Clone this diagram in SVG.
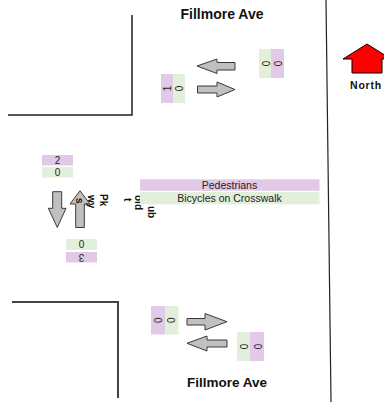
<svg xmlns="http://www.w3.org/2000/svg" width="384" height="406" viewBox="0 0 384 406">
<style>
.road{stroke:#222;stroke-width:1.5;fill:none}
.arr{fill:#c0c0c0;stroke:#3a3a3a;stroke-width:1}
.pur{fill:#e2c9e8}
.grn{fill:#e2efda}
.num{font-family:"Liberation Sans",Arial,sans-serif;font-size:10px;fill:#222;text-anchor:middle}
.lbl{font-family:"Liberation Sans",Arial,sans-serif;font-size:10.5px;fill:#222;text-anchor:middle}
.street{font-family:"Liberation Sans",Arial,sans-serif;font-weight:bold;fill:#111;text-anchor:middle}
.vt{font-family:"Liberation Sans",Arial,sans-serif;font-size:10px;font-weight:bold;fill:#111}
</style>
<g id="roads">
<polyline class="road" points="132,15 132,115 8,115"/>
<polyline class="road" style="stroke:#444;stroke-width:2" points="12,302 118,302 118,398"/>
<line class="road" x1="326" y1="0" x2="331" y2="402" style="stroke-width:1.2"/>
</g>
<g id="street-top"><text class="street" x="222" y="19" font-size="14">Fillmore Ave</text></g>
<g id="street-bottom"><text class="street" x="227" y="387" font-size="13.5">Fillmore Ave</text></g>
<g id="north">
<polygon points="367,44 343,59 352,59 352,73 382,73 382,59 391,59" fill="#ff0000" stroke="#000" stroke-width="1"/>
<text x="366" y="88.5" style="font-family:'Liberation Sans',Arial,sans-serif;font-size:10.5px;font-weight:bold;letter-spacing:0.8px;text-anchor:middle;fill:#111">North</text>
</g>
<g id="connectors">
<polygon class="arr" points="197,66 217,59 217,62.5 235,62.5 235,70 217,70 217,73.5"/>
<polygon class="arr" points="235,89.5 217,82 217,86 197.5,86 197.5,93 217,93 217,97"/>
<polygon class="arr" points="227,321.7 205,313.5 205,318.5 187,318.5 187,325 205,325 205,330"/>
<polygon class="arr" points="187,343.3 207,336 207,340 227,340 227,347 207,347 207,351"/>
<polygon class="arr" points="57.3,227.5 48.3,208.3 52.7,208.3 52.7,191.7 61.7,191.7 61.7,208.3 66,208.3"/>
<polygon class="arr" points="80,190.7 70,204 75.7,204 75.7,227.5 84.3,227.5 84.3,204 90,204"/>
</g>
<g id="counts-top-left">
<rect class="pur" x="161" y="74" width="12" height="29"/>
<rect class="grn" x="173" y="74" width="12" height="29"/>
<text class="num" transform="translate(170.5,88.5) rotate(-90)">1</text>
<text class="num" transform="translate(182.5,88.5) rotate(-90)">0</text>
</g>
<g id="counts-top-right">
<rect class="grn" x="259" y="49" width="12" height="29"/>
<rect class="pur" x="271" y="49" width="13" height="29"/>
<text class="num" transform="translate(261.5,63.5) rotate(90)">0</text>
<text class="num" transform="translate(274,63.5) rotate(90)">0</text>
</g>
<g id="counts-left-top">
<rect class="pur" x="42" y="155" width="31" height="10.5"/>
<rect class="grn" x="42" y="167" width="31" height="10.5"/>
<text class="num" x="57.5" y="163.8">2</text>
<text class="num" x="57.5" y="175.8">0</text>
</g>
<g id="counts-left-bottom">
<rect class="grn" x="66" y="239" width="31" height="11"/>
<rect class="pur" x="66" y="252" width="31" height="10.5"/>
<text class="num" x="81.5" y="248">0</text>
<text class="num" transform="translate(81.5,253.7) rotate(180)">3</text>
</g>
<g id="counts-bottom-left">
<rect class="pur" x="151" y="306" width="14" height="28.5"/>
<rect class="grn" x="165" y="306" width="13.5" height="28.5"/>
<text class="num" transform="translate(161.5,320.2) rotate(-90)">0</text>
<text class="num" transform="translate(175,320.2) rotate(-90)">0</text>
</g>
<g id="counts-bottom-right">
<rect class="grn" x="237" y="332" width="13" height="29"/>
<rect class="pur" x="250" y="332" width="14" height="29"/>
<text class="num" transform="translate(240,346.5) rotate(90)">0</text>
<text class="num" transform="translate(253.5,346.5) rotate(90)">0</text>
</g>
<g id="street-side">
<text class="vt" transform="translate(148,206) rotate(90)">ub</text>
<text class="vt" transform="translate(135,195) rotate(90)">old</text>
<text class="vt" transform="translate(124,198) rotate(90)">t</text>
<text class="vt" transform="translate(100,194) rotate(90)">Pk</text>
<text class="vt" transform="translate(88,195) rotate(90)">wy</text>
<text class="vt" transform="translate(76,198) rotate(90)">s</text>
</g>
<g id="legend">
<rect class="pur" x="140" y="179.3" width="179.5" height="11.5"/>
<rect class="grn" x="140" y="192" width="179.5" height="12.3"/>
<text class="lbl" x="229.5" y="189">Pedestrians</text>
<text class="lbl" x="229.5" y="201.6">Bicycles on Crosswalk</text>
</g>
</svg>
